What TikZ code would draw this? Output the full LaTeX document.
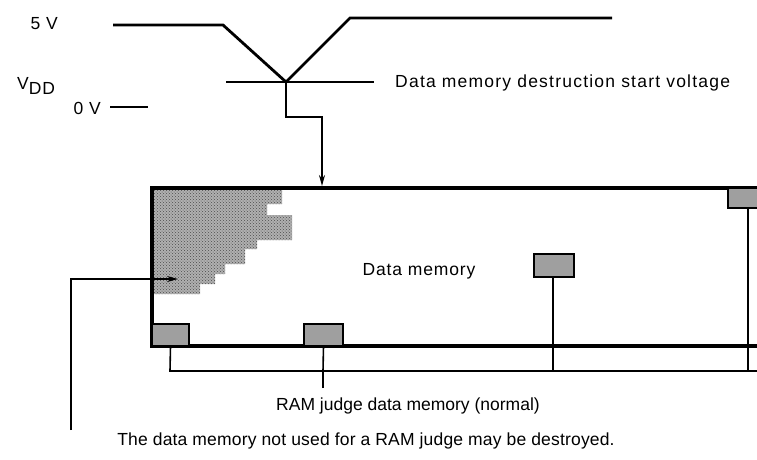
\documentclass[tikz,border=0pt]{standalone}
\usepackage{fontspec}
\setmainfont[LetterSpace=5]{Liberation Sans}
\newfontfamily\fdest[LetterSpace=7]{Liberation Sans}
\newfontfamily\fram[LetterSpace=0]{Liberation Sans}
\newfontfamily\fnote[LetterSpace=1]{Liberation Sans}
\usetikzlibrary{arrows.meta,patterns}
\begin{document}
\begin{tikzpicture}[x=1pt,y=-1pt,
  lab/.style={inner sep=0pt,font=\fontsize{17.5}{20}\selectfont},
  wave/.style={line width=2.8pt},
  thin/.style={line width=1.6pt},
  frame/.style={line width=3.2pt},
  cell/.style={draw,line width=2.4pt,fill=gray!75},
  arr/.style={thin,-{Stealth[length=11pt,width=6pt]}}]
\useasboundingbox (0,0) rectangle (757,459);

% waveform
\coordinate (w0) at (113,25);
\coordinate (w1) at (223,25);
\coordinate (wv) at (286,82);
\coordinate (w2) at (350,18);
\coordinate (w3) at (612,18);
\draw[wave] (w0) -- (w1) -- (wv) -- (w2) -- (w3);
\node[lab,anchor=east] (v5) at (58,24) {5 V};
\node[lab,anchor=center] (vdd) at (36,86) {V\raisebox{-0.5ex}{DD}};
\node[lab,anchor=east] (v0) at (101,108) {0 V};
\coordinate (z1) at (110,107);
\coordinate (z2) at (148,107);
\draw[thin] (z1) -- (z2);

% threshold
\coordinate (t1) at (226,82);
\coordinate (t2) at (374,82);
\draw[thin] (t1) -- (t2);
\node[lab,anchor=west,font=\fdest\fontsize{17.5}{20}\selectfont] (dest) at (395,83) {Data memory destruction start voltage};

% data memory frame
\coordinate (fTR) at (757,188);
\coordinate (fTL) at (152,188);
\coordinate (fBL) at (152,346);
\coordinate (fBR) at (757,346);

% arrow to memory
\coordinate (k1) at (286,117);
\coordinate (k2) at (322,117);
\coordinate (k3) at (322,186);
\draw[arr] (wv) -- (k1) -- (k2) -- (k3);

% destroyed region
\def\region{(152,189) -- (282,189) -- (282,204) -- (267,204) -- (267,215) -- (292,215)
  -- (292,240) -- (257,240) -- (257,249) -- (245,249) -- (245,264) -- (225,264)
  -- (225,274) -- (215,274) -- (215,284) -- (200,284) -- (200,294) -- (152,294) -- cycle}
\fill[gray!62] \region;
\fill[pattern=crosshatch dots,pattern color=gray!60!black] \region;

\draw[frame] (fTR) -- (fTL) -- (fBL) -- (fBR);
\node[lab] (dm) at (419,271) {Data memory};

% RAM judge cells
\path[cell] (152,324) rectangle (189,346);
\node[inner sep=0pt,minimum width=37pt,minimum height=22pt] (c1) at (170.5,335) {};
\path[cell] (304,324) rectangle (343,346);
\node[inner sep=0pt,minimum width=39pt,minimum height=22pt] (c2) at (323.5,335) {};
\path[cell] (534,254) rectangle (574,277);
\node[inner sep=0pt,minimum width=40pt,minimum height=23pt] (c3) at (554,265.5) {};
\path[cell] (728,188) rectangle (762,208);
\node[inner sep=0pt,minimum width=34pt,minimum height=20pt] (c4) at (745,198) {};

\coordinate (b1) at (170,371);
\coordinate (b2) at (323,371);
\coordinate (b3) at (553,371);
\coordinate (b4) at (748,371);
\coordinate (bR) at (757,371);
\draw[thin] (c1.south) -- (b1) -- (bR);
\draw[thin] (c2.south) -- (b2);
\draw[thin] (c3.south -| b3) -- (b3);
\draw[thin] (c4.south -| b4) -- (b4);

\node[lab,font=\fram\fontsize{17.5}{20}\selectfont] (ram) at (408,406) {RAM judge data memory (normal)};
\coordinate (r1) at (323,388);
\draw[thin] (r1) -- (b2);

% bottom note
\node[lab,font=\fnote\fontsize{17.5}{20}\selectfont] (note) at (366,441) {The data memory not used for a RAM judge may be destroyed.};
\coordinate (n1) at (71,430);
\coordinate (n2) at (71,279);
\coordinate (n3) at (178,279);
\draw[arr] (n1) -- (n2) -- (n3);
\end{tikzpicture}
\end{document}
